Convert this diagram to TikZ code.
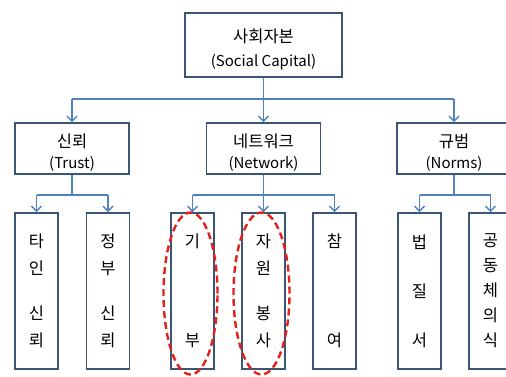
\documentclass[tikz,border=0pt]{standalone}
\usepackage{fontspec}
\setmainfont{Noto Sans CJK KR}
\usetikzlibrary{arrows.meta}
\definecolor{boxc}{HTML}{3B5575}
\definecolor{linec}{HTML}{4F81BD}
\definecolor{ovalc}{HTML}{E3201B}
\newcommand{\lat}[1]{{\fontsize{15}{15}\selectfont #1}}
\newcommand{\dn}[2]{\raisebox{0pt}[\dimexpr\height+#1\relax]{#2}}
\begin{document}
\begin{tikzpicture}[x=1pt,y=-1pt,
  box/.style={draw=boxc,line width=1.6pt,fill=white,align=center,inner sep=0pt,font=\fontsize{16.5}{24}\selectfont},
  topbox/.style={box,minimum width=157pt,minimum height=64pt},
  midbox/.style={box,minimum width=114pt,minimum height=51pt,font=\fontsize{16.5}{21}\selectfont},
  leafbox/.style={box,minimum width=43pt,minimum height=156pt,font=\fontsize{16.5}{#1}\selectfont},
  conn/.style={draw=linec,line width=1.6pt},
  arr/.style={conn,-{Straight Barb[length=5pt,width=10pt,line width=1.5pt]}},
  oval/.style={draw=ovalc,line width=2.4pt,dash pattern=on 7pt off 4pt}
]
\useasboundingbox (0,0) rectangle (506,376);
\clip (0,0) rectangle (506,376);
% top
\node[topbox] (top) at (263.5,45) {\dn{8pt}{사회자본}\\\lat{(Social Capital)}};
% level 2
\node[midbox] (trust) at (72,148.5) {\dn{9pt}{신뢰}\\\lat{(Trust)}};
\node[midbox] (net) at (263.5,148.5) {\dn{9pt}{네트워크}\\\lat{(Network)}};
\node[midbox] (norms) at (454,148.5) {\dn{9pt}{규범}\\\lat{(Norms)}};
% leaves
\node[leafbox=27] (l1) at (36.5,291) {타\\인\\[18pt]신\\뢰};
\node[leafbox=27] (l2) at (108,291) {정\\부\\[18pt]신\\뢰};
\node[leafbox=99] (l3) at (192.5,291) {기\\부};
\node[leafbox=27] (l4) at (263.5,291) {자\\원\\[18pt]봉\\사};
\node[leafbox=99] (l5) at (334.5,291) {참\\여};
\node[leafbox=49] (l6) at (419.5,291) {법\\질\\서};
\node[leafbox=25] (l7) at (490.5,291) {공\\동\\체\\의\\식};
% connectors level 1
\coordinate (b0) at (263.5,99);
\draw[conn] (top.south) -- (b0);
\draw[conn] (trust.north |- b0) -- (norms.north |- b0);
\draw[arr] (trust.north |- b0) -- (trust.north);
\draw[arr] (b0) -- (net.north);
\draw[arr] (norms.north |- b0) -- (norms.north);
% trust children
\coordinate (b1) at (72,195);
\draw[conn] (trust.south) -- (b1);
\draw[conn] (l1.north |- b1) -- (l2.north |- b1);
\draw[arr] (l1.north |- b1) -- (l1.north);
\draw[arr] (l2.north |- b1) -- (l2.north);
% network children
\coordinate (b2) at (263.5,195);
\draw[conn] (net.south) -- (b2);
\draw[conn] (l3.north |- b2) -- (l5.north |- b2);
\draw[arr] (l3.north |- b2) -- (l3.north);
\draw[arr] (b2) -- (l4.north);
\draw[arr] (l5.north |- b2) -- (l5.north);
% norms children
\coordinate (b3) at (454,195);
\draw[conn] (norms.south) -- (b3);
\draw[conn] (l6.north |- b3) -- (l7.north |- b3);
\draw[arr] (l6.north |- b3) -- (l6.north);
\draw[arr] (l7.north |- b3) -- (l7.north);
% ovals
\draw[oval] (190.5,293.5) ellipse [x radius=27pt,y radius=81pt];
\draw[oval] (261.5,293.5) ellipse [x radius=28pt,y radius=81pt];
\end{tikzpicture}
\end{document}
